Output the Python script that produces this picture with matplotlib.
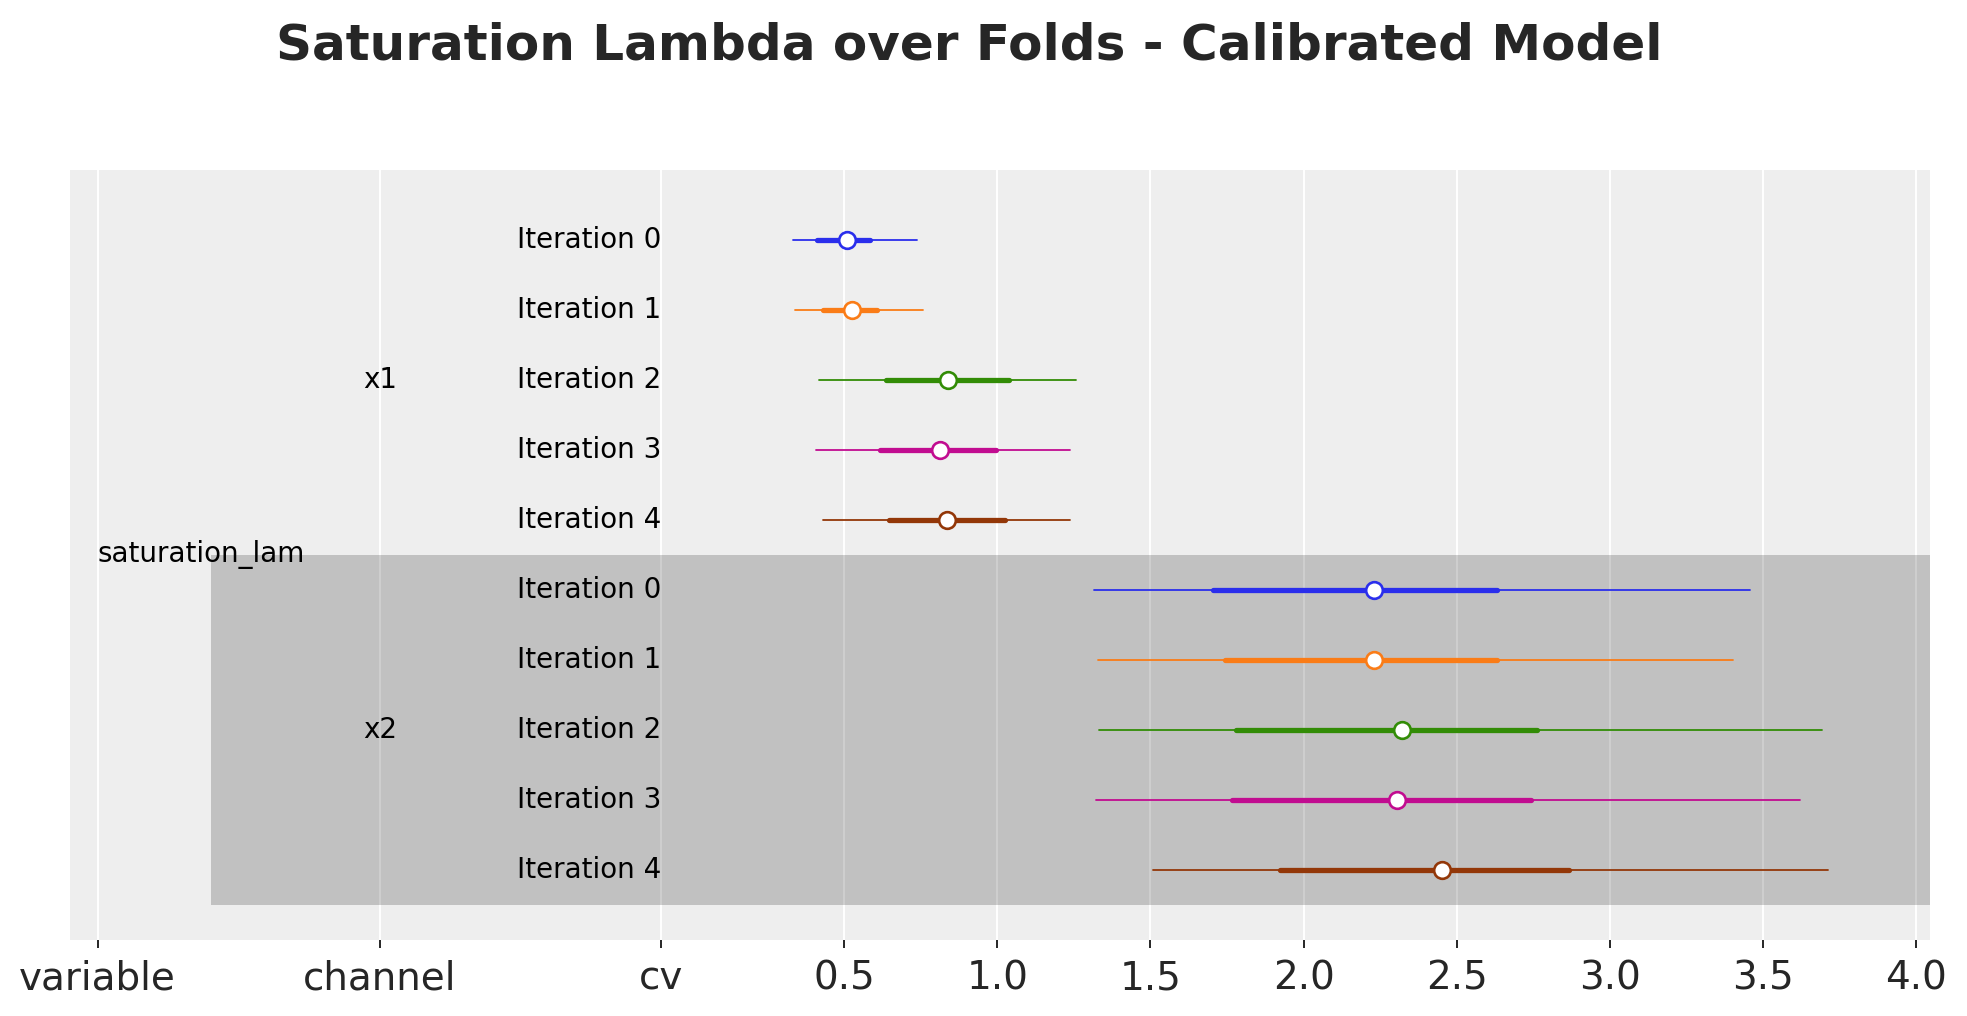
import matplotlib
matplotlib.use("Agg")
import matplotlib.pyplot as plt

# forest plot values
channels = ["x1", "x2"]
iterations = ["Iteration 0", "Iteration 1", "Iteration 2", "Iteration 3", "Iteration 4"]
colors = ["#2a2eec", "#fa7c17", "#328c06", "#c10c90", "#933708"]

# x1
x1_median = [0.510, 0.526, 0.840, 0.814, 0.836]
x1_hdi_lo = [0.334, 0.340, 0.419, 0.409, 0.432]
x1_hdi_hi = [0.737, 0.756, 1.256, 1.239, 1.239]
x1_q_lo = [0.412, 0.432, 0.637, 0.618, 0.647]
x1_q_hi = [0.586, 0.609, 1.037, 0.995, 1.025]

# x2
x2_median = [2.230, 2.230, 2.322, 2.306, 2.452]
x2_hdi_lo = [1.316, 1.329, 1.333, 1.323, 1.510]
x2_hdi_hi = [3.459, 3.403, 3.691, 3.619, 3.711]
x2_q_lo = [1.705, 1.744, 1.781, 1.767, 1.924]
x2_q_hi = [2.632, 2.632, 2.761, 2.744, 2.865]

col_names = ["variable", "channel", "cv"]
num_ticks = [0.5, 1.0, 1.5, 2.0, 2.5, 3.0, 3.5, 4.0]

# where the label columns sit on the x axis
col_pos = [-1.937, -1.015, -0.098]
band_left = -1.567
xmin, xmax = -2.027, 4.045

medians = [x1_median, x2_median]
hdi_lo = [x1_hdi_lo, x2_hdi_lo]
hdi_hi = [x1_hdi_hi, x2_hdi_hi]
q_lo = [x1_q_lo, x2_q_lo]
q_hi = [x1_q_hi, x2_q_hi]

fig = plt.figure(figsize=(19.67, 10.16), dpi=100)
ax = fig.add_axes([70 / 1967, 1 - 940 / 1016, 1860 / 1967, 770 / 1016])
ax.set_facecolor("#eeeeee")
for s in ax.spines.values():
    s.set_visible(False)

n = len(iterations)
# shaded band for the second channel
ax.fill_between([band_left, xmax + 1], n - 0.5, 2 * n - 0.5,
                color="black", alpha=0.19, lw=0, zorder=1)

for c, ch in enumerate(channels):
    for i, it in enumerate(iterations):
        y = c * n + i
        col = colors[i]
        ax.plot([hdi_lo[c][i], hdi_hi[c][i]], [y, y], color=col, lw=1.3,
                solid_capstyle="round", zorder=3)
        ax.plot([q_lo[c][i], q_hi[c][i]], [y, y], color=col, lw=3.8,
                solid_capstyle="round", zorder=4)
        ax.plot(medians[c][i], y, "o", ms=12, mfc="white", mec=col, mew=1.9, zorder=5)
        ax.text(col_pos[2], y, it, ha="right", va="center", fontsize=20, color="black")
    ax.text(col_pos[1], c * n + (n - 1) / 2, ch, ha="center", va="center",
            fontsize=20, color="black")

ax.text(col_pos[0], n - 0.5, "saturation_lam", ha="left", va="center",
        fontsize=20, color="black")

ax.set_xlim(xmin, xmax)
ax.set_ylim(2 * n, -1)
ax.set_xticks(col_pos + num_ticks)
ax.set_xticklabels(col_names + [f"{t:.1f}" for t in num_ticks])
ax.set_yticks([])
ax.grid(axis="x", color="white", lw=1.4, zorder=0)
ax.set_axisbelow(True)
ax.tick_params(axis="x", length=5.8, width=1.4, color="#262626", pad=8,
               labelsize=28, labelcolor="#262626")

fig.text(969.5 / 1967, 1 - 60 / 1016, "Saturation Lambda over Folds - Calibrated Model",
         ha="center", va="baseline", fontsize=36, fontweight="bold", color="#262626")

fig.savefig("out.png", dpi=100)
